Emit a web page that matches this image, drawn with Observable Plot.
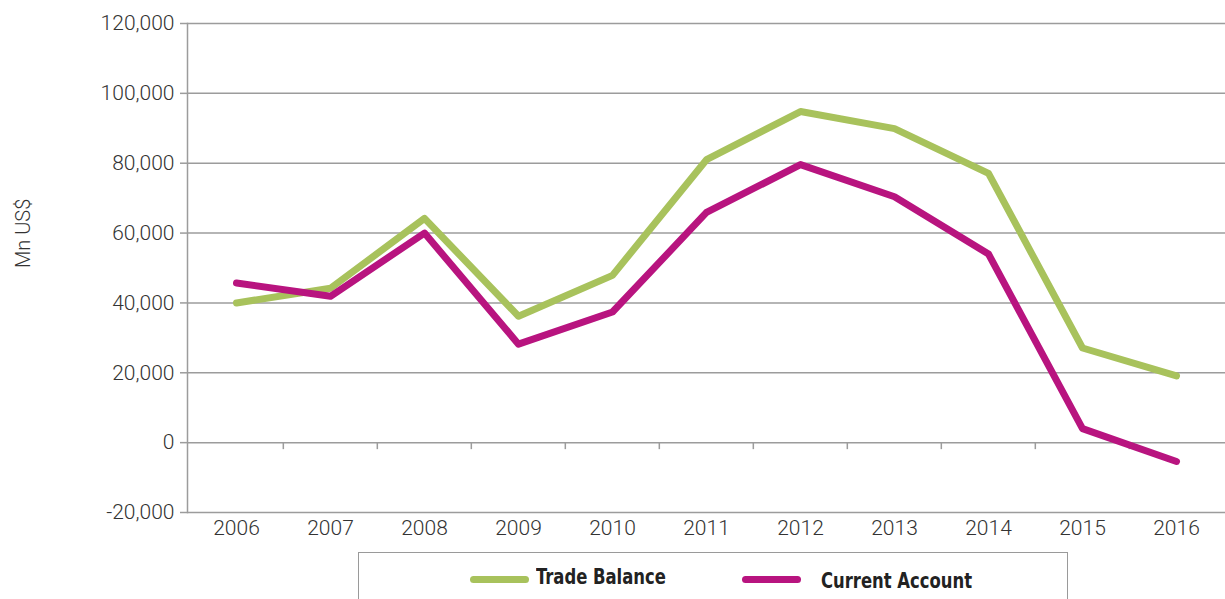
<!DOCTYPE html>
<html>
<head>
<meta charset="utf-8">
<script src="https://cdn.jsdelivr.net/npm/d3@7"></script>
<script src="https://cdn.jsdelivr.net/npm/@observablehq/plot@0.6"></script>
<style>
  html, body { margin: 0; padding: 0; background: #fff; overflow: hidden; }
  #wrap { position: relative; width: 1225px; height: 599px; }
  #legend { position: absolute; left: 358px; top: 552px; width: 708px; height: 60px;
    border: 1.5px solid #9a9a9a; border-bottom: none; box-sizing: content-box; }
  .sw { position: absolute; height: 7px; width: 59px; border-radius: 3.5px; }
  .lt { position: absolute; font-family: "Liberation Sans Narrow", "DejaVu Sans Condensed", "Liberation Sans", sans-serif;
    font-weight: bold; font-size: 22px; line-height: 22px; color: #222; white-space: nowrap;
    transform: scaleX(0.83); transform-origin: left center; }
</style>
</head>
<body>
<div id="wrap">
  <div id="chart"></div>
  <div id="legend"></div>
</div>
<script>
const years = ["2006","2007","2008","2009","2010","2011","2012","2013","2014","2015","2016"];
const tradeBalance = [40000, 44200, 64200, 36200, 47900, 81000, 94800, 89900, 77100, 27100, 19100];
const currentAccount = [45700, 41900, 60000, 28200, 37400, 65900, 79600, 70400, 54000, 4000, -5400];
const yTicks = [-20000, 0, 20000, 40000, 60000, 80000, 100000, 120000];
const yTickLabels = ["-20,000", "0", "20,000", "40,000", "60,000", "80,000", "100,000", "120,000"];
const seriesNames = ["Trade Balance", "Current Account"];
const seriesColors = ["#a8c25c", "#b8147f"];
const yTitle = "Mn US$";

const rows = [];
years.forEach((y, i) => {
  rows.push({year: y, value: tradeBalance[i], series: seriesNames[0]});
});
years.forEach((y, i) => {
  rows.push({year: y, value: currentAccount[i], series: seriesNames[1]});
});

const W = 1225, ML = 187, MR = 0;
const step = (W - ML - MR) / years.length;
const gridColor = "#9c9c9c";
const textFont = "Roboto, 'Liberation Sans', Arial, sans-serif";

const chart = Plot.plot({
  width: W,
  height: 545,
  marginTop: 23,
  marginBottom: 33,
  marginLeft: ML,
  marginRight: MR,
  style: {fontFamily: textFont, fontSize: "21px", fontWeight: 300, color: "#333", background: "#fff"},
  x: {type: "point", domain: years, padding: 0.5},
  y: {domain: [-20000, 120000]},
  color: {domain: seriesNames, range: seriesColors},
  marks: [
    Plot.gridY(yTicks, {stroke: gridColor, strokeOpacity: 1, strokeWidth: 1.5}),
    Plot.ruleX(years.slice(1), {x: d => d, y1: () => 0, y2: () => 0, dx: -step / 2, insetBottom: -7, stroke: gridColor, strokeWidth: 1.5}),
    Plot.frame({anchor: "left", stroke: gridColor, strokeWidth: 1.5}),
    Plot.axisY(yTicks, {
      tickSize: 7, tickPadding: 6, stroke: gridColor, strokeWidth: 1.5,
      tickFormat: d => yTickLabels[yTicks.indexOf(d)],
      label: null, fontSize: 21
    }),
    Plot.axisX({tickSize: 0, tickPadding: 8, label: null, fontSize: 21}),
    Plot.text([yTitle], {frameAnchor: "left", rotate: -90, dx: -164, dy: 0, fontSize: 20, fill: "#333", text: d => d}),
    Plot.line(rows, {x: "year", y: "value", z: "series", stroke: "series", strokeWidth: 7,
      strokeLinecap: "round", strokeLinejoin: "round"})
  ]
});
document.getElementById("chart").appendChild(chart);

const legend = document.getElementById("legend");
const items = [
  {name: seriesNames[0], color: seriesColors[0], swLeft: 111, textLeft: 177, textTop: 13},
  {name: seriesNames[1], color: seriesColors[1], swLeft: 383, textLeft: 462, textTop: 17}
];
items.forEach(it => {
  const sw = document.createElement("div");
  sw.className = "sw";
  sw.style.left = it.swLeft + "px";
  sw.style.top = "23px";
  sw.style.background = it.color;
  legend.appendChild(sw);
  const t = document.createElement("div");
  t.className = "lt";
  t.style.left = it.textLeft + "px";
  t.style.top = it.textTop + "px";
  t.textContent = it.name;
  legend.appendChild(t);
});
</script>
</body>
</html>
